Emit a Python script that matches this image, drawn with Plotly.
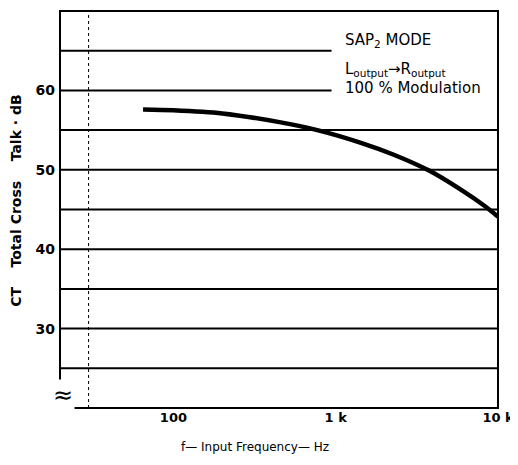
import numpy as np
import plotly.graph_objects as go

# Data
freq_hz = [65, 100, 200, 450, 770, 1430, 2280, 3760, 5900, 8200, 10000]
cross_talk_db = [57.6, 57.5, 57.1, 56.0, 55.0, 53.4, 51.9, 49.9, 47.5, 45.5, 44.1]

y_tick_vals = [30, 40, 50, 60]
x_tick_vals = [100, 1000, 10000]
x_tick_text = ["100", "1 k", "10 k"]
grid_levels_full = [25, 30, 35, 40, 45, 50, 55]
grid_levels_short = [60, 65]
dotted_freqs = [30]

FONT = "DejaVu Sans"
NB = "\u00a0"

fig = go.Figure()
fig.add_trace(go.Scatter(
    x=freq_hz, y=cross_talk_db, mode="lines",
    line=dict(color="black", width=4.5, shape="spline", smoothing=0.8),
    hoverinfo="skip", showlegend=False,
))

shapes = []
for lv in grid_levels_full:
    shapes.append(dict(type="line", xref="paper", yref="y", x0=0, x1=1, y0=lv, y1=lv,
                       line=dict(color="black", width=2)))
for lv in grid_levels_short:
    shapes.append(dict(type="line", xref="paper", yref="y", x0=0, x1=0.62, y0=lv, y1=lv,
                       line=dict(color="black", width=2)))
for f in dotted_freqs:
    shapes.append(dict(type="line", xref="x", yref="paper", x0=f, x1=f, y0=0, y1=1,
                       line=dict(color="black", width=1, dash="dot")))
shapes.append(dict(type="rect", xref="paper", yref="paper", x0=0, x1=1, y0=0, y1=1,
                   line=dict(color="black", width=2), layer="above"))

ann_font = dict(family=FONT, size=15, color="black")
annotations = [
    dict(text="SAP<sub>2</sub> MODE", x=0.646, y=0.925, xref="paper", yref="paper",
         xanchor="left", yanchor="middle", showarrow=False, font=ann_font),
    dict(text="L<sub>output</sub>→R<sub>output</sub>", x=0.646, y=0.853, xref="paper", yref="paper",
         xanchor="left", yanchor="middle", showarrow=False, font=ann_font),
    dict(text="100 % Modulation", x=0.646, y=0.806, xref="paper", yref="paper",
         xanchor="left", yanchor="middle", showarrow=False, font=ann_font),
    dict(text="≈", x=0, y=21.6, xref="paper", yref="y", xanchor="center", yanchor="middle",
         showarrow=False, xshift=3, font=dict(family=FONT, size=24, color="black"),
         bgcolor="white"),
    # axis titles
    dict(text="CT" + NB * 3 + " Total Cross" + NB * 3 + " Talk · dB", textangle=-90,
         x=0, y=0.522, xref="paper", yref="paper", xshift=-44,
         xanchor="center", yanchor="middle", showarrow=False,
         font=dict(family=FONT, size=14, color="black", weight="bold")),
    dict(text="f— Input Frequency— Hz", x=0.445, y=-0.098, xref="paper", yref="paper",
         xanchor="center", yanchor="middle", showarrow=False,
         font=dict(family=FONT, size=12, color="black")),
]

fig.update_layout(
    width=510, height=457,
    margin=dict(l=52, r=20, t=3, b=57),
    paper_bgcolor="white", plot_bgcolor="white",
    shapes=shapes, annotations=annotations,
    font=dict(family=FONT, color="black"),
    xaxis=dict(
        type="log", range=[np.log10(20), np.log10(10000)],
        tickvals=x_tick_vals, ticktext=x_tick_text, automargin=False,
        showgrid=False, zeroline=False, showline=False, ticks="",
        ticklabelstandoff=0,
        tickfont=dict(family=FONT, size=13, color="black", weight="bold"),
    ),
    yaxis=dict(
        range=[20, 70], tickvals=y_tick_vals, automargin=False,
        showgrid=False, zeroline=False, showline=False, ticks="",
        ticklabelstandoff=4,
        tickfont=dict(family=FONT, size=14, color="black", weight="bold"),
    ),
)

fig.write_html("out.html")
